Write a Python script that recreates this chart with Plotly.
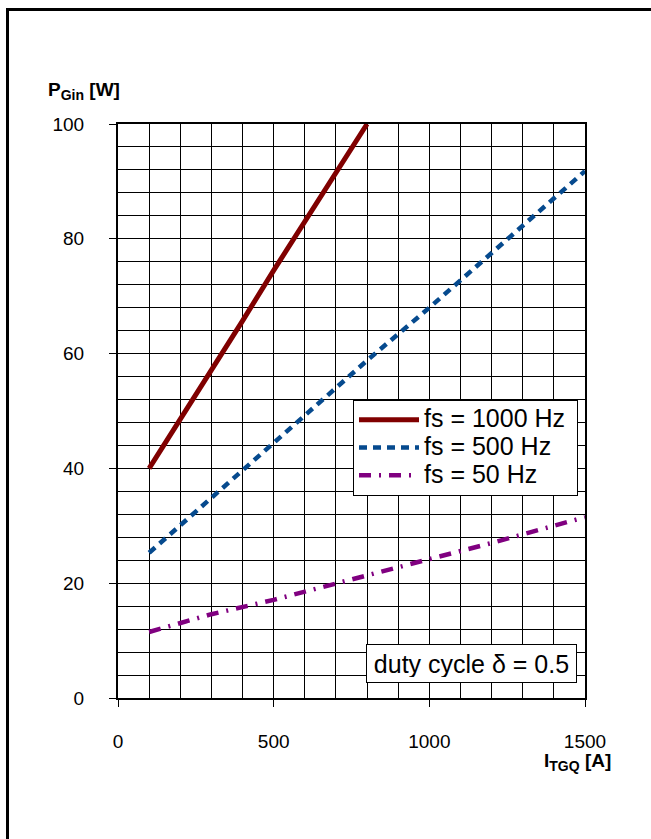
import plotly.graph_objects as go

# ---- data ----
i_1000 = [100, 200, 300, 400, 500, 600, 700, 800]
p_1000 = [40.0, 48.5, 57.0, 65.7, 74.5, 83.0, 91.5, 100.0]

i_500 = [100, 300, 500, 800, 1000, 1200, 1500]
p_500 = [25.3, 34.8, 44.5, 58.8, 68.0, 77.5, 91.8]

i_50 = [100, 300, 500, 700, 1000, 1200, 1500]
p_50 = [11.5, 14.6, 17.1, 20.0, 24.2, 27.0, 31.5]

series_names = ["fs = 1000 Hz", "fs = 500 Hz", "fs = 50 Hz"]
x_ticks = [0, 500, 1000, 1500]
y_ticks = [0, 20, 40, 60, 80, 100]

FONT = "Liberation Sans, Arial, sans-serif"
W, H = 651, 839
L, T = 118, 124
R = W - 585
B = H - 698
PW, PH = W - L - R, H - T - B


def px_x(x):
    return (x - L) / PW


def px_y(y):
    return 1 - (y - T) / PH


def leg(name):
    return f"<span style='font-size:25px'>{name}&nbsp;</span>"


fig = go.Figure()
fig.add_trace(go.Scatter(x=i_1000, y=p_1000, mode="lines", name=leg(series_names[0]),
                         line=dict(color="#800000", width=5)))
fig.add_trace(go.Scatter(x=i_500, y=p_500, mode="lines", name=leg(series_names[1]),
                         line=dict(color="#064A8E", width=4.5, dash="8px,6px")))
fig.add_trace(go.Scatter(x=i_50, y=p_50, mode="lines", name=leg(series_names[2]),
                         line=dict(color="#800080", width=4.5, dash="12px,8px,2px,8px")))

fig.update_layout(
    width=W, height=H,
    margin=dict(l=L, r=R, t=T, b=B),
    paper_bgcolor="white", plot_bgcolor="white",
    font=dict(family=FONT, color="black", size=19),
    showlegend=True,
    legend=dict(x=px_x(353), y=px_y(400), xanchor="left", yanchor="top",
                bgcolor="white", bordercolor="black", borderwidth=1,
                font=dict(family=FONT, size=19, color="black"),
                itemwidth=60, tracegroupgap=0),
)

fig.update_xaxes(
    range=[0, 1500], tickvals=x_ticks, ticks="outside", ticklen=7, tickwidth=1,
    tickcolor="black", showline=True, linecolor="black", linewidth=2, mirror=True,
    showgrid=True, gridcolor="black", gridwidth=1, zeroline=False,
    minor=dict(dtick=100, tick0=0, showgrid=True, gridcolor="black", gridwidth=1, ticks=""),
    ticklabelstandoff=18, tickfont=dict(size=19),
)
fig.update_yaxes(
    range=[0, 100], tickvals=y_ticks, ticks="outside", ticklen=7, tickwidth=1,
    tickcolor="black", showline=True, linecolor="black", linewidth=2, mirror=True,
    showgrid=True, gridcolor="black", gridwidth=1, zeroline=False,
    minor=dict(dtick=4, tick0=0, showgrid=True, gridcolor="black", gridwidth=1, ticks=""),
    ticklabelstandoff=21, tickfont=dict(size=19),
)

# axis titles
fig.add_annotation(xref="paper", yref="paper", x=px_x(46), y=px_y(91),
                   xanchor="left", yanchor="middle", showarrow=False,
                   text="<b>P<sub><span style='font-size:14px'>Gin</span></sub> [W]</b>",
                   font=dict(family=FONT, size=19))
fig.add_annotation(xref="paper", yref="paper", x=px_x(542), y=px_y(762),
                   xanchor="left", yanchor="middle", showarrow=False,
                   text="<b>I<sub><span style='font-size:14px'>TGQ</span></sub> [A]</b>",
                   font=dict(family=FONT, size=19))

# duty cycle box
fig.add_annotation(xref="paper", yref="paper", x=px_x(471.5), y=px_y(663.5),
                   xanchor="center", yanchor="middle", showarrow=False,
                   text="duty cycle δ = 0.5", font=dict(family=FONT, size=25),
                   width=199, height=27, align="center",
                   bgcolor="white", bordercolor="black", borderwidth=1, borderpad=5)

# outer page frame (left and top edges)
fig.add_shape(type="path", xref="paper", yref="paper",
              path=f"M {px_x(7.5)},{px_y(850)} L {px_x(7.5)},{px_y(9.5)} L {px_x(660)},{px_y(9.5)}",
              line=dict(color="black", width=3))

fig.write_html("out.html", config={"displayModeBar": False},
               post_script="document.body.style.margin='0';")
